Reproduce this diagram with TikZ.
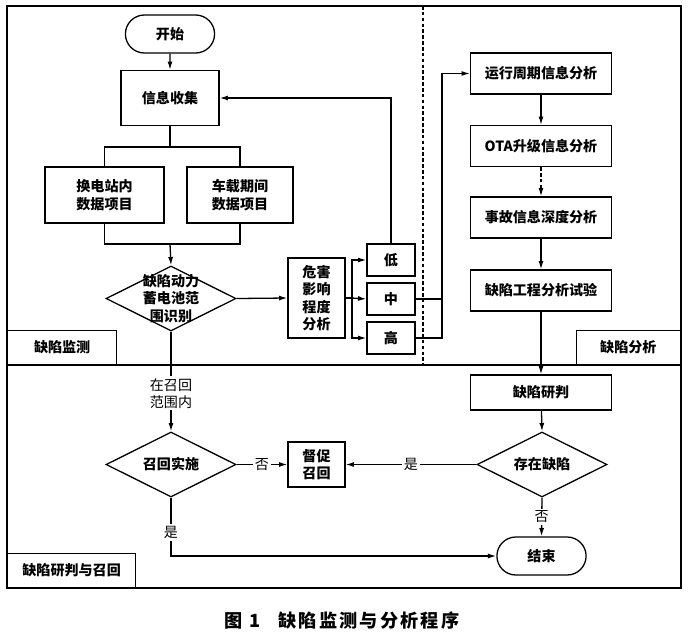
\documentclass[tikz,border=0pt]{standalone}
\usepackage{fontspec}
\setmainfont{Noto Sans CJK SC}
\usepackage{tikz}
\usetikzlibrary{calc, shapes.geometric, shapes.misc}
\usetikzlibrary{arrows.meta}
\tikzset{>={Latex[width=1.5mm,length=2.5mm]}}

\begin{document}
\begin{tikzpicture}[
    x = 0.3mm, y = -0.3mm,
    line width = 1.1pt,
    font = \bfseries\fontsize{12}{15}\selectfont,
    box/.style = {draw, rectangle, align=center, inner sep=0pt},
    term/.style = {draw, rounded rectangle, minimum width=29.1mm, minimum height=11.4mm},
    dia/.style = {draw, diamond, minimum width=39mm, minimum height=19.5mm, inner sep=0pt},
    wide/.style = {box, minimum width=42.3mm, minimum height=12.3mm},
    level/.style = {box, minimum width=14.4mm, minimum height=9.6mm},
    tab/.style = {box, anchor=south west, minimum height=10.2mm},
    tag/.style = {fill=white, font=\mdseries\fontsize{12}{14}\selectfont, align=center, inner sep=2pt}
  ]
  \useasboundingbox (0,0) rectangle (690,634);

  % frame and areas
  \draw (7,6) rectangle (681,588);
  \draw (7,365) -- (681,365);
  \draw[line width=1pt, dash pattern=on 3pt off 2pt] (423,6) -- (423,365);
  \node[tab, minimum width=32.7mm] (tabmon) at (7,365) {缺陷监测};
  \node[tab, minimum width=31.2mm, anchor=south east] (tabana) at (681,365) {缺陷分析};
  \node[tab, minimum width=38.4mm] (tabrec) at (7,588) {缺陷研判与召回};

  % monitoring
  \node[term] (start) at (170,34) {开始};
  \node[box, minimum width=29.4mm, minimum height=16.5mm] (collect) at (170,98) {信息收集};
  \node[box, minimum width=35.7mm, minimum height=16.8mm] (station) at (104.5,195) {换电站内\\数据项目};
  \node[box, minimum width=31.8mm, minimum height=16.8mm] (vehicle) at (240,195) {车载期间\\数据项目};
  \node[dia, label={[align=center]center:{缺陷动力\\蓄电池范\\围识别}}] (ident) at (171,298.5) {};
  \node[box, minimum width=17.1mm, minimum height=24mm] (hazard) at (316.5,298) {危害\\影响\\程度\\分析};
  \node[level] (low) at (391,260) {低};
  \node[level] (mid) at (391,299) {中};
  \node[level] (high) at (391,338) {高};

  % analysis
  \node[wide] (run) at (541,73.5) {运行周期信息分析};
  \node[wide] (ota) at (541,146) {OTA升级信息分析};
  \node[wide] (acc) at (541,217.5) {事故信息深度分析};
  \node[wide] (eng) at (541,290.5) {缺陷工程分析试验};

  % judging and recall
  \node[wide, minimum height=10.5mm] (judge) at (541,392.5) {缺陷研判};
  \node[dia, label=center:存在缺陷] (exist) at (542,464.5) {};
  \node[box, minimum width=17.1mm, minimum height=13.5mm] (urge) at (316.5,464.5) {督促\\召回};
  \node[dia, label=center:召回实施] (recall) at (171,464.5) {};
  \node[term] (finish) at (541.5,556) {结束};

  \coordinate (split) at (170,147);
  \coordinate (merge) at (170,244);
  \coordinate (fan) at (352,298);
  \coordinate (bus) at (442,73.5);

  \draw[->] (start) -- (collect);
  \draw (collect) -- (split);
  \draw (station.north) |- (split) -| (vehicle.north);
  \draw (station.south) |- (merge) -| (vehicle.south);
  \draw[->] (merge) -- (ident.north);
  \draw[->] (ident.east) -- (hazard.west);
  \draw (hazard.east) -- (fan);
  \draw[->] (fan) |- (low.west);
  \draw[->] (fan) -- (mid.west);
  \draw[->] (fan) |- (high.west);
  \draw[->] (low.north) |- (collect.east);
  \draw (mid.east) -- (mid.east -| bus);
  \draw[->] (high.east) -| (bus) -- (run.west);

  \draw[->] (run) -- (ota);
  \draw[->, dash pattern=on 3pt off 2pt] (ota) -- (acc);
  \draw[->] (acc) -- (eng);
  \draw[->] (eng) -- (judge);
  \draw[->] (judge) -- (exist.north);

  \draw[->] (exist.west) -- node[tag] {是} (urge.east);
  \draw[->] (recall.east) -- node[tag] {否} (urge.west);
  \draw[->] (ident.south) -- node[tag, pos=0.62] {在召回\\范围内} (recall.north);
  \draw[->] (exist.south) -- node[tag] {否} (finish.north);
  \draw[->] (recall.south) |- node[tag, pos=0.3] {是} (finish.west);

  \node[font=\bfseries\fontsize{15.5}{18}\selectfont\addfontfeature{LetterSpace=12}] (caption) at (342,621) {图 1\quad 缺陷监测与分析程序};
\end{tikzpicture}
\end{document}
